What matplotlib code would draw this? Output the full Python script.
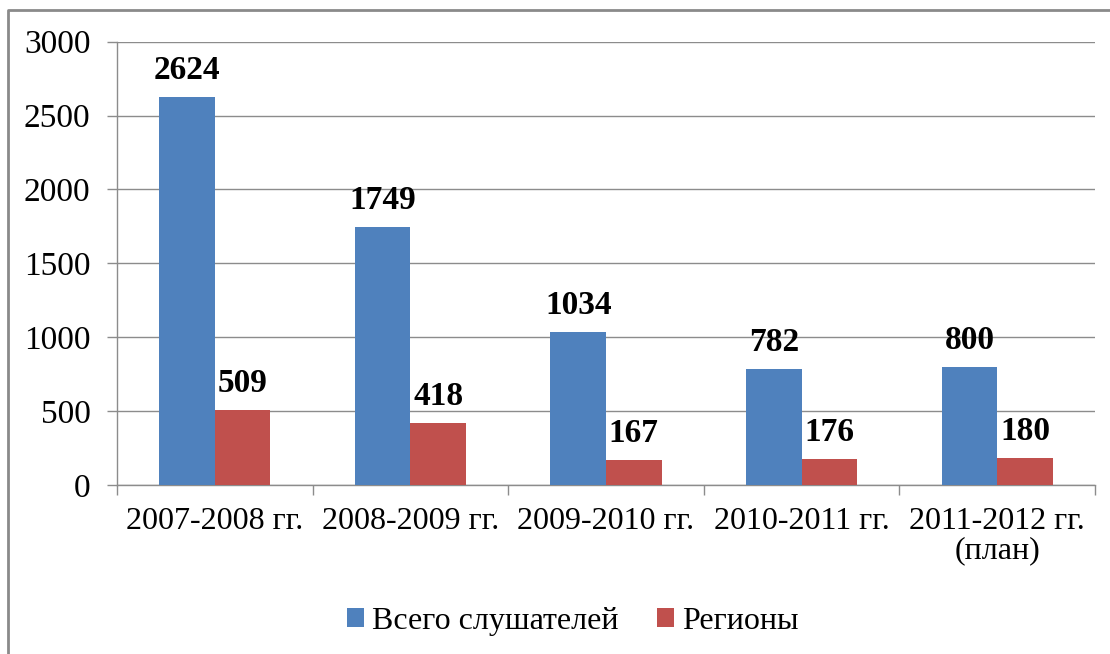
import matplotlib
matplotlib.use("Agg")
import matplotlib.pyplot as plt
from matplotlib.lines import Line2D
import numpy as np

plt.rcParams["font.family"] = ["Liberation Serif", "DejaVu Serif"]

categories = ["2007-2008 гг.", "2008-2009 гг.", "2009-2010 гг.",
              "2010-2011 гг.", "2011-2012 гг.\n(план)"]
total = [2624, 1749, 1034, 782, 800]
regions = [509, 418, 167, 176, 180]
series_names = ["Всего слушателей", "Регионы"]

BLUE = "#4F81BD"
RED = "#C0504D"
GRID = "#8C8C8C"

fig = plt.figure(figsize=(11.1, 6.54), dpi=100)
ax = fig.add_axes([117 / 1110, 1 - 485 / 654, (1095 - 117) / 1110, (485 - 41.7) / 654])

x = np.arange(len(categories))
w = 0.284
b1 = ax.bar(x - w / 2, total, w, color=BLUE, label=series_names[0], zorder=3)
b2 = ax.bar(x + w / 2, regions, w, color=RED, label=series_names[1], zorder=3)

for bars in (b1, b2):
    for rect in bars:
        h = rect.get_height()
        ax.annotate(f"{h:.0f}", (rect.get_x() + rect.get_width() / 2, h),
                    xytext=(0, 13), textcoords="offset points",
                    ha="center", va="baseline", fontsize=24, fontweight="bold")

ax.set_xlim(-0.5, len(categories) - 0.5)
ax.set_ylim(0, 3000)
ax.set_yticks(np.arange(0, 3001, 500))
ax.yaxis.grid(True, color=GRID, lw=1, zorder=0)
ax.set_axisbelow(True)

ax.set_xticks(x)
ax.set_xticklabels(categories, fontsize=23, linespacing=1.0)
ax.set_xticks(np.arange(-0.5, len(categories), 1), minor=True)
ax.tick_params(axis="x", which="major", length=0, pad=16)
ax.tick_params(axis="x", which="minor", length=7, width=1, color=GRID, direction="out")
ax.tick_params(axis="y", labelsize=24, length=7, width=1, color=GRID, pad=12)

for s in ("top", "right"):
    ax.spines[s].set_visible(False)
for s in ("left", "bottom"):
    ax.spines[s].set_color(GRID)
    ax.spines[s].set_linewidth(1)

ax.legend(loc="center", bbox_to_anchor=(0.516, 0.05), bbox_transform=fig.transFigure,
          ncol=2, frameon=False, fontsize=23, handlelength=0.55, handleheight=0.55,
          handletextpad=0.25, columnspacing=1.2)

# outer chart frame (only top and left edges visible in the picture)
fig.add_artist(Line2D([8 / 1110, 8 / 1110, 1.0], [0.0, 1 - 10 / 654, 1 - 10 / 654],
                      transform=fig.transFigure, color="#8A8A8A", lw=2))

fig.savefig("out.png", dpi=100)
